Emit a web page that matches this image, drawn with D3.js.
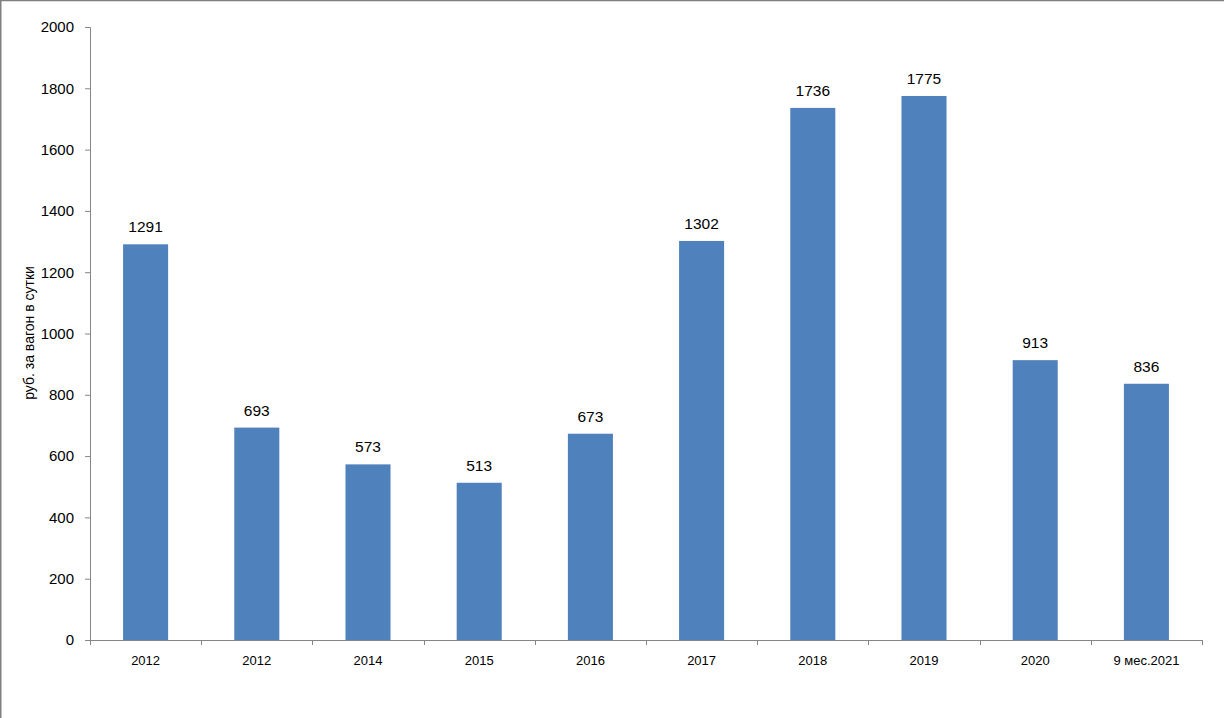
<!DOCTYPE html>
<html><head><meta charset="utf-8">
<script src="https://cdn.jsdelivr.net/npm/d3@7"></script>
<style>html,body{margin:0;padding:0;background:#fff;}svg{display:block;}</style>
</head><body>
<svg id="c" width="1224" height="718"></svg>
<script>
const categories = ["2012","2012","2014","2015","2016","2017","2018","2019","2020","9 мес.2021"];
const values = [1291, 693, 573, 513, 673, 1302, 1736, 1775, 913, 836];
const yTicks = [0,200,400,600,800,1000,1200,1400,1600,1800,2000];
const yTitle = "руб. за вагон в сутки";

const svg = d3.select("#c");
const font = "'Liberation Sans', Arial, sans-serif";
const axisColor = "#868686";
const m = {left: 90, right: 22, top: 27, bottom: 78};
const W = 1224, H = 718;

// border (top and left)
svg.append("line").attr("x1",0).attr("x2",W).attr("y1",0.5).attr("y2",0.5).attr("stroke","#808080").attr("stroke-width",1.5);
svg.append("line").attr("x1",0.75).attr("x2",0.75).attr("y1",0).attr("y2",H).attr("stroke","#808080").attr("stroke-width",1.5);

const x = d3.scaleBand().domain(d3.range(categories.length)).range([m.left, W - m.right]).paddingInner(0.595).paddingOuter(0.2975);
const y = d3.scaleLinear().domain([0,2000]).range([H - m.bottom, m.top]);

const yAxis = d3.axisLeft(y).tickValues(yTicks).tickSize(5).tickPadding(11).tickFormat(d3.format("d"));
const gy = svg.append("g").attr("transform",`translate(${m.left},0)`).call(yAxis);
gy.select(".domain").attr("stroke",axisColor);
gy.selectAll(".tick line").attr("stroke",axisColor);
gy.selectAll(".tick text").attr("font-family",font).attr("font-size",15).attr("fill","#000");

// x axis
const x0 = H - m.bottom;
const gx = svg.append("g");
gx.append("line").attr("x1",m.left).attr("x2",W-m.right).attr("y1",x0+0.5).attr("y2",x0+0.5).attr("stroke",axisColor);
const step = x.step();
const bounds = d3.range(categories.length+1).map(i => m.left + i*step);
gx.selectAll("line.t").data(bounds).join("line").attr("class","t")
  .attr("x1",d=>Math.round(d)+0.5).attr("x2",d=>Math.round(d)+0.5).attr("y1",x0).attr("y2",x0+5).attr("stroke",axisColor);
gx.selectAll("text").data(categories).join("text")
  .attr("x",(d,i)=>x(i)+x.bandwidth()/2).attr("y",x0+25)
  .attr("text-anchor","middle").attr("font-family",font).attr("font-size",13).attr("fill","#000").text(d=>d);

// bars
svg.append("g").selectAll("rect").data(values).join("rect")
  .attr("x",(d,i)=>x(i)).attr("width",x.bandwidth())
  .attr("y",d=>y(d)).attr("height",d=>y(0)-y(d)).attr("fill","#4F81BD");

// value labels
svg.append("g").selectAll("text").data(values).join("text")
  .attr("x",(d,i)=>x(i)+x.bandwidth()/2).attr("y",d=>y(d)-12)
  .attr("text-anchor","middle").attr("font-family",font).attr("font-size",15.5).attr("fill","#000").text(d=>d);

// y title
svg.append("text").attr("transform",`translate(34,333) rotate(-90)`)
  .attr("text-anchor","middle").attr("font-family",font).attr("font-size",14).attr("fill","#000").text(yTitle);
</script>
</body></html>
